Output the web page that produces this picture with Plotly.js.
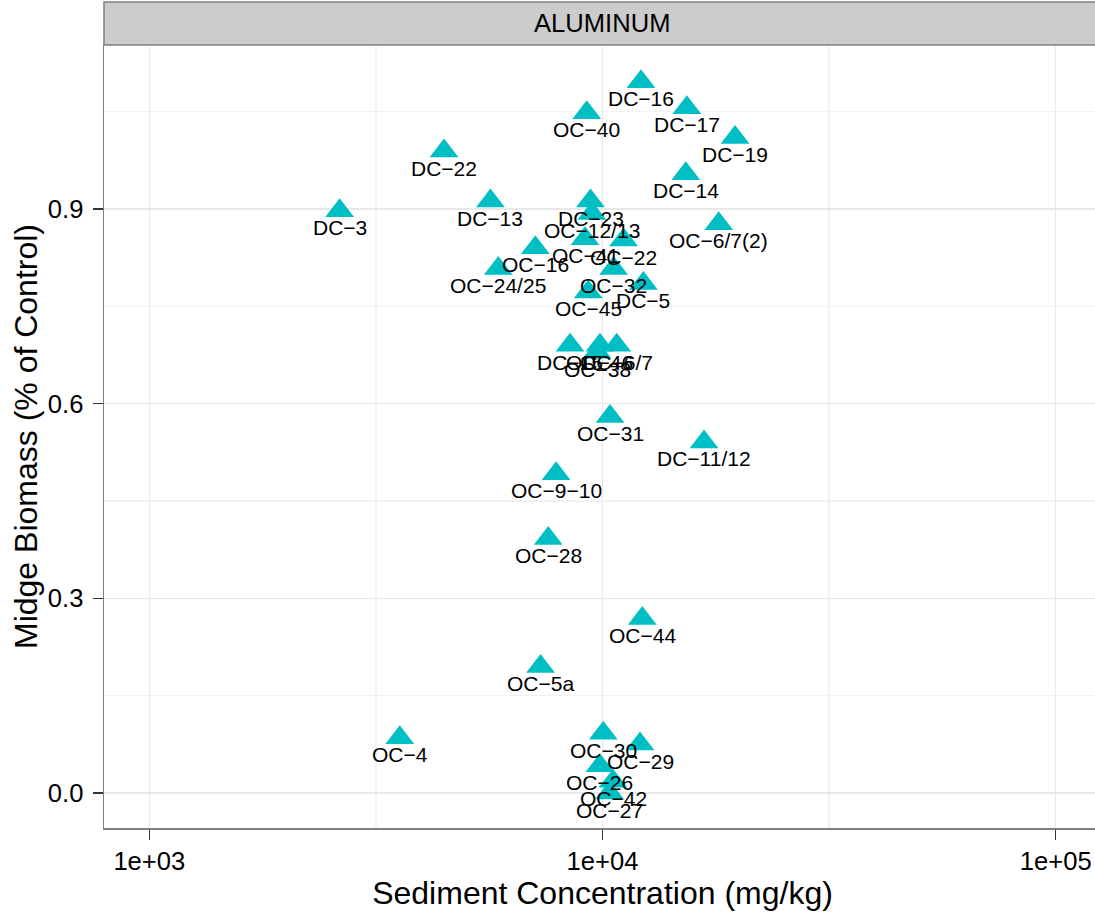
<!DOCTYPE html>
<html><head><meta charset="utf-8">
<script src="https://cdn.plot.ly/plotly-3.0.1.min.js"></script>
<style>html,body{margin:0;padding:0;overflow:hidden;background:#fff}#chart{width:1104px;height:913px}</style>
</head><body><div id="chart"></div>
<script>
// ---- data ----
const siteLabels = ["DC\u221216","OC\u221240","DC\u221217","DC\u221219","DC\u221222","DC\u221214","DC\u22123","DC\u221213","DC\u221223","OC\u221212/13","OC\u22126/7(2)","OC\u221216","OC\u221241","OC\u221222","OC\u221224/25","OC\u221232","DC\u22125","OC\u221245","DC\u221215","OC\u221246","OC\u22126/7","OC\u221238","OC\u221231","DC\u221211/12","OC\u22129\u221210","OC\u221228","OC\u221244","OC\u22125a","OC\u22124","OC\u221230","OC\u221229","OC\u221226","OC\u221242","OC\u221227"];
const concentration = [12160,9230,15350,19610,4470,15270,2630,5660,9410,9480,18050,7110,9150,11130,5890,10580,12310,9300,8480,9870,10750,9730,10390,16750,7900,7590,12240,7300,3570,10040,12100,9870,10550,10370];
const biomass = [1.096,1.048,1.056,1.010,0.989,0.954,0.897,0.912,0.912,0.893,0.877,0.840,0.854,0.852,0.808,0.808,0.785,0.772,0.690,0.690,0.690,0.679,0.580,0.541,0.492,0.392,0.269,0.195,0.085,0.092,0.0755,0.042,0.018,0.000];
const xTickValues = [1000, 10000, 100000];
const xTickLabels = ["1e+03", "1e+04", "1e+05"];
const yTickValues = [0, 0.3, 0.6, 0.9];
const yTickLabels = ["0.0", "0.3", "0.6", "0.9"];
const panelTitle = "ALUMINUM";
const xTitle = "Sediment Concentration (mg/kg)";
const yTitle = "Midge Biomass (% of Control)";

const FONT = "Liberation Sans, Arial, Helvetica, sans-serif";

const trace = {
  type: "scatter", mode: "markers",
  x: concentration, y: biomass,
  marker: {symbol: "triangle-up", size: 25, color: "#00BFC4", line: {width: 0}},
  hoverinfo: "skip", showlegend: false, cliponaxis: false
};

const labelAnnotations = siteLabels.map((t, i) => ({
  x: Math.log10(concentration[i]), y: biomass[i], xref: "x", yref: "y",
  text: t, showarrow: false, yshift: -17,
  font: {family: FONT, size: 21, color: "#000"}
}));

const stripAnnotation = {
  x: 0.5, y: 1 + 21.5 / 783, xref: "paper", yref: "paper",
  text: panelTitle, showarrow: false, xanchor: "center", yanchor: "middle",
  font: {family: FONT, size: 25.6, color: "#000"}
};

const layout = {
  width: 1104, height: 913,
  margin: {l: 104, r: 3, t: 45, b: 85, pad: 0},
  paper_bgcolor: "#fff", plot_bgcolor: "#fff",
  font: {family: FONT, color: "#000"},
  xaxis: {
    type: "log", range: [2.9, 5.1], autorange: false,
    tickmode: "array", tickvals: xTickValues, ticktext: xTickLabels,
    ticks: "outside", ticklen: 10, tickwidth: 1.5, tickcolor: "#333",
    tickfont: {family: FONT, size: 25.6, color: "#000"}, ticklabelstandoff: 0,
    showgrid: true, gridcolor: "#E8E8E8", gridwidth: 1.3,
    minor: {dtick: 0.5, tick0: 0, showgrid: true, gridcolor: "#F2F2F2", gridwidth: 1.3, ticks: ""},
    showline: true, linecolor: "#7F7F7F", linewidth: 1.5, mirror: true,
    zeroline: false, automargin: false,
    title: {text: xTitle, font: {family: FONT, size: 32, color: "#000"}, standoff: 0}
  },
  yaxis: {
    range: [-0.0539, 1.1525], autorange: false,
    tickmode: "array", tickvals: yTickValues, ticktext: yTickLabels,
    ticks: "outside", ticklen: 10, tickwidth: 1.5, tickcolor: "#333",
    tickfont: {family: FONT, size: 25.6, color: "#000"}, ticklabelstandoff: 4,
    showgrid: true, gridcolor: "#E8E8E8", gridwidth: 1.3,
    minor: {dtick: 0.15, tick0: 0, showgrid: true, gridcolor: "#F2F2F2", gridwidth: 1.3, ticks: ""},
    showline: true, linecolor: "#7F7F7F", linewidth: 1.5, mirror: true,
    zeroline: false, automargin: false,
    title: {text: yTitle, font: {family: FONT, size: 32, color: "#000"}, standoff: 0}
  },
  shapes: [{
    type: "rect", xref: "paper", yref: "paper",
    x0: 0, x1: 1, y0: 1, y1: 1 + 43 / 783,
    fillcolor: "#CCCCCC", line: {color: "#7F7F7F", width: 1.5}, layer: "above"
  }],
  annotations: [stripAnnotation].concat(labelAnnotations)
};

Plotly.newPlot("chart", [trace], layout, {displayModeBar: false, staticPlot: true});
</script></body></html>
